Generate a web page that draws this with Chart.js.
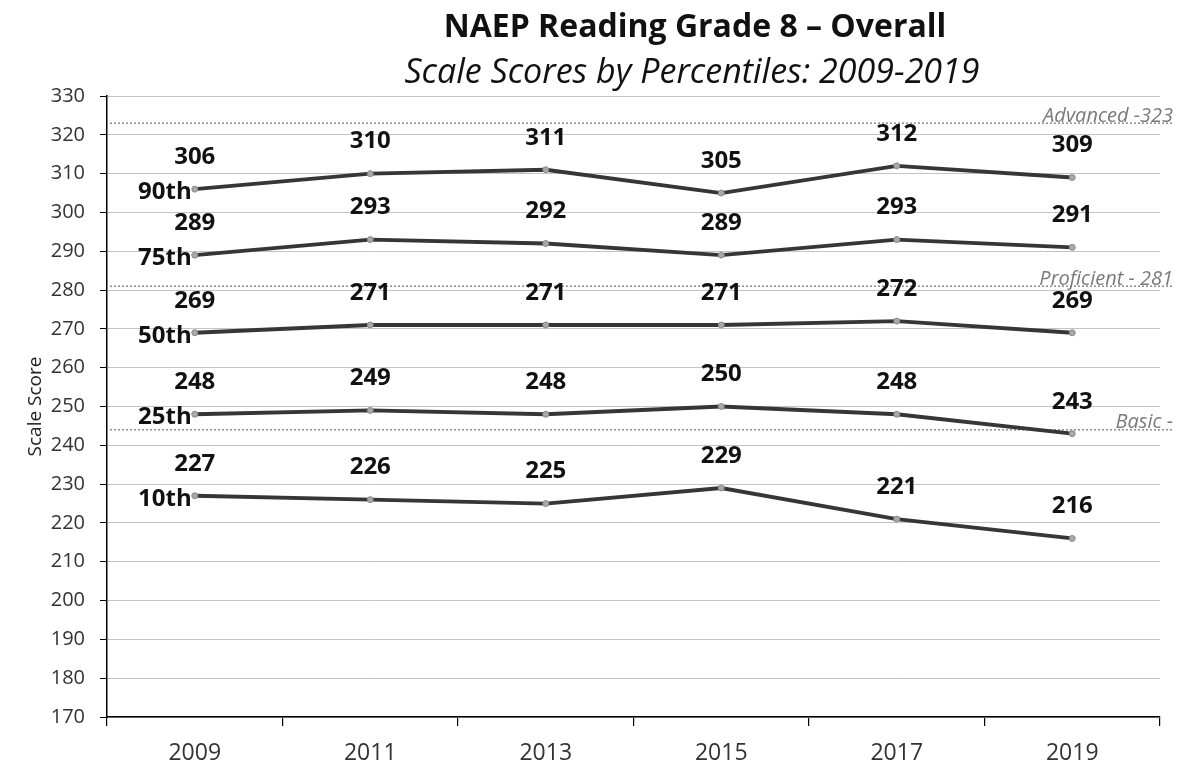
<!DOCTYPE html>
<html>
<head>
<meta charset="utf-8">
<script src="https://cdn.jsdelivr.net/npm/chart.js@4"></script>
<style>
  html, body { margin: 0; padding: 0; background: #ffffff; }
  #wrap { width: 1189px; height: 771px; }
</style>
</head>
<body>
<div id="wrap"><canvas id="c" width="1189" height="771"></canvas></div>
<script>
const years = ['2009', '2011', '2013', '2015', '2017', '2019'];
const seriesNames = ['90th', '75th', '50th', '25th', '10th'];
const p90 = [306, 310, 311, 305, 312, 309];
const p75 = [289, 293, 292, 289, 293, 291];
const p50 = [269, 271, 271, 271, 272, 269];
const p25 = [248, 249, 248, 250, 248, 243];
const p10 = [227, 226, 225, 229, 221, 216];
const benchmarkValues = [323, 281, 244];
const benchmarkLabels = ['Advanced -323', 'Proficient - 281', 'Basic -'];
const yMin = 170, yMax = 330, yStep = 10;
const titleText = 'NAEP Reading Grade 8 \u2013 Overall';
const subtitleText = 'Scale Scores by Percentiles: 2009-2019';
const yAxisTitle = 'Scale Score';

const FONT = "'Open Sans', 'Noto Sans', sans-serif";
const seriesValues = [p90, p75, p50, p25, p10];

const datasets = seriesValues.map((vals, i) => ({
  label: seriesNames[i],
  data: vals,
  borderColor: '#363636',
  borderWidth: 3.8,
  pointRadius: 3,
  pointBackgroundColor: '#a8a8a8',
  pointBorderColor: '#8a8a8a',
  pointBorderWidth: 1,
  tension: 0,
  fill: false
}));

const decorPlugin = {
  id: 'decor',
  beforeDatasetsDraw(chart) {
    const ctx = chart.ctx;
    const y = chart.scales.y;
    const area = chart.chartArea;
    ctx.save();
    benchmarkValues.forEach((v, i) => {
      const py = y.getPixelForValue(v);
      ctx.strokeStyle = '#8c8c8c';
      ctx.lineWidth = 1.5;
      ctx.setLineDash([2, 2]);
      ctx.beginPath();
      ctx.moveTo(area.left + 3, py);
      ctx.lineTo(area.right + 14, py);
      ctx.stroke();
      ctx.setLineDash([]);
      ctx.fillStyle = '#7a7a7a';
      ctx.font = "italic 20px " + FONT;
      ctx.textAlign = 'right';
      ctx.textBaseline = 'bottom';
      ctx.fillText(benchmarkLabels[i], area.right + 13, py + 3);
    });
    ctx.restore();
  },
  afterDraw(chart) {
    const ctx = chart.ctx;
    ctx.save();
    ctx.fillStyle = '#111';
    ctx.textAlign = 'center';
    ctx.textBaseline = 'middle';
    ctx.font = "bold 32px " + FONT;
    ctx.fillText(titleText, 695, 28);
    ctx.font = "italic 34px " + FONT;
    ctx.fillText(subtitleText, 692, 73);
    chart.data.datasets.forEach((ds, di) => {
      const meta = chart.getDatasetMeta(di);
      ctx.fillStyle = '#111';
      ctx.font = "bold 24px " + FONT;
      ctx.textAlign = 'center';
      ctx.textBaseline = 'middle';
      meta.data.forEach((pt, k) => {
        ctx.fillText(String(ds.data[k]), pt.x, pt.y - 32);
      });
      const first = meta.data[0];
      ctx.textAlign = 'right';
      ctx.fillText(ds.label, first.x - 3, first.y + 3);
    });
    ctx.restore();
  }
};

new Chart(document.getElementById('c'), {
  type: 'line',
  data: { labels: years, datasets: datasets },
  options: {
    responsive: false,
    animation: false,
    layout: { padding: { top: 96, right: 29, left: 0, bottom: 0 } },
    plugins: {
      legend: { display: false },
      tooltip: { enabled: false },
      title: { display: false }
    },
    scales: {
      x: {
        type: 'category',
        offset: true,
        grid: {
          offset: true,
          drawOnChartArea: false,
          drawTicks: true,
          tickLength: 9,
          color: '#000',
          lineWidth: 1.2
        },
        border: { display: true, color: '#000', width: 1.5 },
        ticks: {
          color: '#333',
          font: { family: FONT, size: 23 },
          padding: 14,
          maxRotation: 0
        },
        afterFit(scale) { scale.height = 54; }
      },
      y: {
        min: yMin,
        max: yMax,
        ticks: {
          stepSize: yStep,
          color: '#333',
          font: { family: FONT, size: 20 },
          padding: 15
        },
        grid: {
          color: '#c4c4c4',
          lineWidth: 1,
          tickColor: '#000',
          tickLength: 7
        },
        border: { display: true, color: '#000', width: 1.5 },
        title: {
          display: true,
          text: yAxisTitle,
          color: '#222',
          font: { family: FONT, size: 19 },
          padding: { top: 24, bottom: 0 }
        },
        afterFit(scale) { scale.width = 107; }
      }
    }
  },
  plugins: [decorPlugin]
});
</script>
</body>
</html>
